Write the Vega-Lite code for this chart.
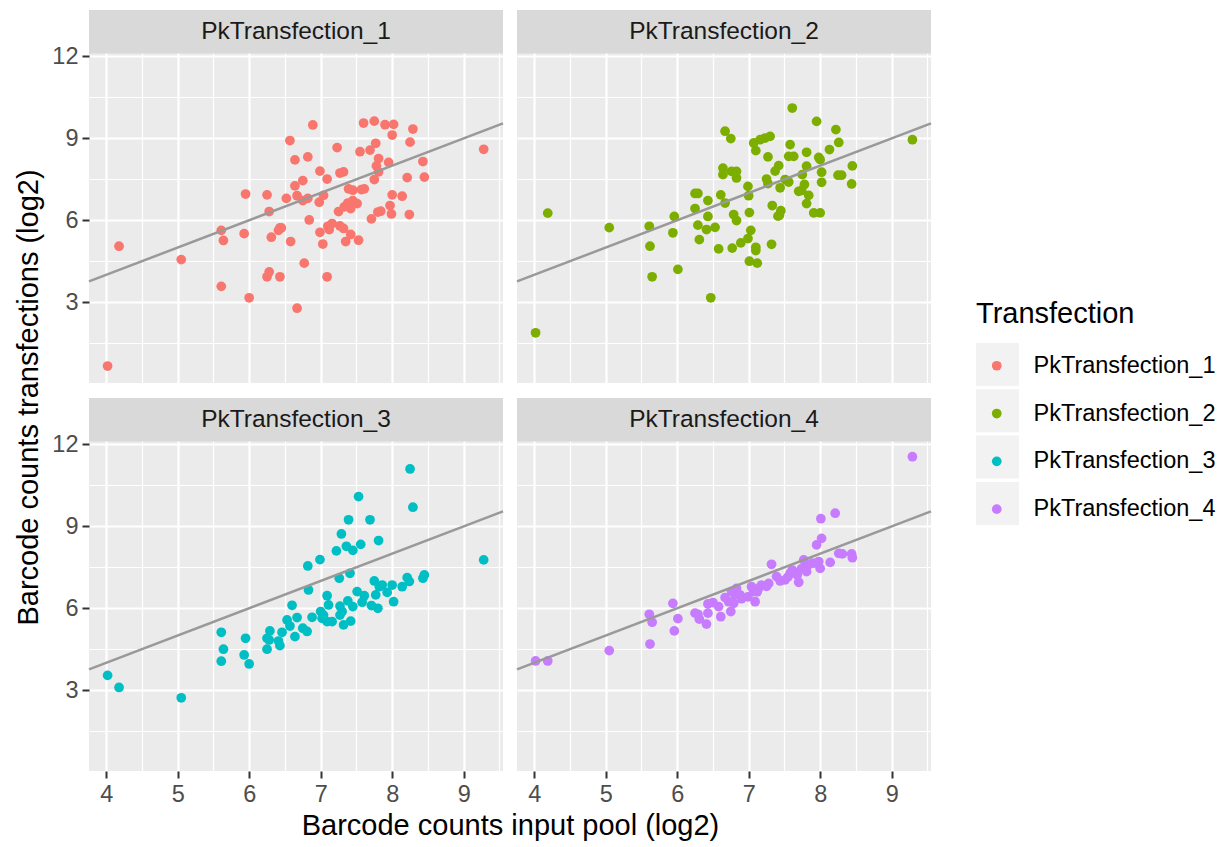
{
  "$schema": "https://vega.github.io/schema/vega-lite/v6.json",
  "background": "white",
  "padding": {"left": 14, "top": 10, "right": 5, "bottom": 5},
  "config": {"font": "Liberation Sans", "view": {"stroke": null}},
  "datasets": {
    "strips": [{"t": "PkTransfection_1"}, {"t": "PkTransfection_2"}, {"t": "PkTransfection_3"}, {"t": "PkTransfection_4"}],
    "pts": [
      {"t":"PkTransfection_1","x":4.02,"y":0.66},{"t":"PkTransfection_1","x":4.18,"y":5.05},{"t":"PkTransfection_1","x":5.05,"y":4.56},{"t":"PkTransfection_1","x":5.61,"y":5.63},{"t":"PkTransfection_1","x":5.64,"y":5.26},{"t":"PkTransfection_1","x":5.61,"y":3.58},{"t":"PkTransfection_1","x":5.93,"y":5.51},{"t":"PkTransfection_1","x":5.95,"y":6.96},{"t":"PkTransfection_1","x":6.0,"y":3.16},{"t":"PkTransfection_1","x":6.25,"y":6.93},{"t":"PkTransfection_1","x":6.28,"y":6.32},{"t":"PkTransfection_1","x":6.31,"y":5.38},{"t":"PkTransfection_1","x":6.25,"y":3.93},{"t":"PkTransfection_1","x":6.28,"y":4.11},{"t":"PkTransfection_1","x":6.43,"y":3.93},{"t":"PkTransfection_1","x":6.43,"y":5.72},{"t":"PkTransfection_1","x":6.45,"y":5.72},{"t":"PkTransfection_1","x":6.41,"y":5.63},{"t":"PkTransfection_1","x":6.52,"y":6.8},{"t":"PkTransfection_1","x":6.57,"y":8.92},{"t":"PkTransfection_1","x":6.64,"y":8.21},{"t":"PkTransfection_1","x":6.64,"y":7.26},{"t":"PkTransfection_1","x":6.67,"y":6.9},{"t":"PkTransfection_1","x":6.58,"y":5.22},{"t":"PkTransfection_1","x":6.67,"y":2.78},
      {"t":"PkTransfection_1","x":6.89,"y":9.49},{"t":"PkTransfection_1","x":6.82,"y":8.32},{"t":"PkTransfection_1","x":6.75,"y":7.45},{"t":"PkTransfection_1","x":6.75,"y":6.72},{"t":"PkTransfection_1","x":6.82,"y":6.8},{"t":"PkTransfection_1","x":6.99,"y":7.8},{"t":"PkTransfection_1","x":7.09,"y":7.51},{"t":"PkTransfection_1","x":7.23,"y":8.66},{"t":"PkTransfection_1","x":7.27,"y":7.73},{"t":"PkTransfection_1","x":7.32,"y":7.77},{"t":"PkTransfection_1","x":6.98,"y":6.66},{"t":"PkTransfection_1","x":7.04,"y":6.91},{"t":"PkTransfection_1","x":6.84,"y":6.01},{"t":"PkTransfection_1","x":6.99,"y":5.56},{"t":"PkTransfection_1","x":7.12,"y":5.66},{"t":"PkTransfection_1","x":7.16,"y":5.88},{"t":"PkTransfection_1","x":7.1,"y":5.78},{"t":"PkTransfection_1","x":7.03,"y":5.13},{"t":"PkTransfection_1","x":6.77,"y":4.43},{"t":"PkTransfection_1","x":7.09,"y":3.93},{"t":"PkTransfection_1","x":7.27,"y":5.79},{"t":"PkTransfection_1","x":7.32,"y":5.7},{"t":"PkTransfection_1","x":7.25,"y":6.32},{"t":"PkTransfection_1","x":7.35,"y":5.22},{"t":"PkTransfection_1","x":7.42,"y":5.48},{"t":"PkTransfection_1","x":7.53,"y":5.27},{"t":"PkTransfection_1","x":7.39,"y":7.15},{"t":"PkTransfection_1","x":7.45,"y":7.1},{"t":"PkTransfection_1","x":7.57,"y":7.12},{"t":"PkTransfection_1","x":7.61,"y":7.15},{"t":"PkTransfection_1","x":7.33,"y":6.49},{"t":"PkTransfection_1","x":7.38,"y":6.63},{"t":"PkTransfection_1","x":7.45,"y":6.72},{"t":"PkTransfection_1","x":7.51,"y":6.61},{"t":"PkTransfection_1","x":7.42,"y":6.43},{"t":"PkTransfection_1","x":7.6,"y":9.56},{"t":"PkTransfection_1","x":7.75,"y":9.63},{"t":"PkTransfection_1","x":7.9,"y":9.5},{"t":"PkTransfection_1","x":8.02,"y":9.51},{"t":"PkTransfection_1","x":8.0,"y":9.12},{"t":"PkTransfection_1","x":7.55,"y":8.51},{"t":"PkTransfection_1","x":7.69,"y":8.57},{"t":"PkTransfection_1","x":7.77,"y":8.82},{"t":"PkTransfection_1","x":7.81,"y":8.26},{"t":"PkTransfection_1","x":7.78,"y":7.99},{"t":"PkTransfection_1","x":7.81,"y":7.77},{"t":"PkTransfection_1","x":7.75,"y":7.49},{"t":"PkTransfection_1","x":7.95,"y":8.12},{"t":"PkTransfection_1","x":7.71,"y":6.05},{"t":"PkTransfection_1","x":7.8,"y":6.3},{"t":"PkTransfection_1","x":7.84,"y":6.33},{"t":"PkTransfection_1","x":7.97,"y":6.54},{"t":"PkTransfection_1","x":7.99,"y":6.23},{"t":"PkTransfection_1","x":8.0,"y":6.93},{"t":"PkTransfection_1","x":8.14,"y":6.88},{"t":"PkTransfection_1","x":8.29,"y":9.34},{"t":"PkTransfection_1","x":8.25,"y":8.86},{"t":"PkTransfection_1","x":8.43,"y":8.15},{"t":"PkTransfection_1","x":8.21,"y":7.56},{"t":"PkTransfection_1","x":8.45,"y":7.58},{"t":"PkTransfection_1","x":8.24,"y":6.21},{"t":"PkTransfection_1","x":9.28,"y":8.6},
      {"t":"PkTransfection_2","x":4.02,"y":1.88},{"t":"PkTransfection_2","x":4.19,"y":6.26},{"t":"PkTransfection_2","x":5.05,"y":5.73},{"t":"PkTransfection_2","x":5.61,"y":5.78},{"t":"PkTransfection_2","x":5.62,"y":5.05},{"t":"PkTransfection_2","x":5.65,"y":3.93},{"t":"PkTransfection_2","x":5.94,"y":5.54},{"t":"PkTransfection_2","x":5.96,"y":6.14},{"t":"PkTransfection_2","x":6.01,"y":4.2},{"t":"PkTransfection_2","x":6.25,"y":6.98},{"t":"PkTransfection_2","x":6.29,"y":6.98},{"t":"PkTransfection_2","x":6.25,"y":6.43},{"t":"PkTransfection_2","x":6.29,"y":5.82},{"t":"PkTransfection_2","x":6.31,"y":5.29},{"t":"PkTransfection_2","x":6.41,"y":5.66},{"t":"PkTransfection_2","x":6.43,"y":6.72},{"t":"PkTransfection_2","x":6.43,"y":6.14},{"t":"PkTransfection_2","x":6.53,"y":5.74},{"t":"PkTransfection_2","x":6.58,"y":4.95},{"t":"PkTransfection_2","x":6.61,"y":6.93},{"t":"PkTransfection_2","x":6.47,"y":3.16},{"t":"PkTransfection_2","x":6.67,"y":6.63},{"t":"PkTransfection_2","x":6.64,"y":7.91},{"t":"PkTransfection_2","x":6.64,"y":7.67},{"t":"PkTransfection_2","x":6.67,"y":9.26},
      {"t":"PkTransfection_2","x":6.75,"y":8.99},{"t":"PkTransfection_2","x":6.76,"y":7.79},{"t":"PkTransfection_2","x":6.83,"y":7.79},{"t":"PkTransfection_2","x":6.83,"y":7.55},{"t":"PkTransfection_2","x":6.79,"y":6.21},{"t":"PkTransfection_2","x":6.83,"y":5.99},{"t":"PkTransfection_2","x":6.77,"y":4.98},{"t":"PkTransfection_2","x":6.89,"y":5.17},{"t":"PkTransfection_2","x":6.99,"y":5.33},{"t":"PkTransfection_2","x":7.03,"y":5.63},{"t":"PkTransfection_2","x":7.1,"y":5.01},{"t":"PkTransfection_2","x":7.1,"y":4.89},{"t":"PkTransfection_2","x":7.01,"y":4.5},{"t":"PkTransfection_2","x":7.12,"y":4.43},{"t":"PkTransfection_2","x":6.99,"y":7.24},{"t":"PkTransfection_2","x":7.0,"y":6.9},{"t":"PkTransfection_2","x":7.01,"y":6.28},{"t":"PkTransfection_2","x":7.07,"y":8.83},{"t":"PkTransfection_2","x":7.1,"y":8.55},{"t":"PkTransfection_2","x":7.16,"y":8.95},{"t":"PkTransfection_2","x":7.23,"y":9.01},{"t":"PkTransfection_2","x":7.3,"y":9.07},{"t":"PkTransfection_2","x":7.27,"y":8.32},{"t":"PkTransfection_2","x":7.25,"y":7.51},{"t":"PkTransfection_2","x":7.27,"y":7.34},{"t":"PkTransfection_2","x":7.33,"y":6.54},{"t":"PkTransfection_2","x":7.32,"y":5.12},{"t":"PkTransfection_2","x":7.37,"y":7.8},{"t":"PkTransfection_2","x":7.42,"y":8.0},{"t":"PkTransfection_2","x":7.44,"y":7.19},{"t":"PkTransfection_2","x":7.51,"y":7.49},{"t":"PkTransfection_2","x":7.56,"y":7.4},{"t":"PkTransfection_2","x":7.41,"y":6.15},{"t":"PkTransfection_2","x":7.45,"y":6.35},{"t":"PkTransfection_2","x":7.43,"y":6.18},{"t":"PkTransfection_2","x":7.61,"y":10.11},{"t":"PkTransfection_2","x":7.58,"y":8.77},{"t":"PkTransfection_2","x":7.56,"y":8.34},{"t":"PkTransfection_2","x":7.63,"y":8.34},{"t":"PkTransfection_2","x":7.81,"y":8.49},{"t":"PkTransfection_2","x":7.81,"y":7.98},{"t":"PkTransfection_2","x":7.75,"y":7.67},{"t":"PkTransfection_2","x":7.78,"y":7.31},{"t":"PkTransfection_2","x":7.7,"y":7.06},{"t":"PkTransfection_2","x":7.74,"y":7.09},{"t":"PkTransfection_2","x":7.84,"y":6.91},{"t":"PkTransfection_2","x":7.81,"y":6.61},{"t":"PkTransfection_2","x":7.91,"y":6.27},{"t":"PkTransfection_2","x":8.0,"y":6.27},{"t":"PkTransfection_2","x":7.95,"y":9.62},{"t":"PkTransfection_2","x":7.98,"y":8.3},{"t":"PkTransfection_2","x":8.0,"y":8.22},{"t":"PkTransfection_2","x":8.02,"y":7.76},{"t":"PkTransfection_2","x":8.02,"y":7.39},{"t":"PkTransfection_2","x":8.13,"y":8.59},{"t":"PkTransfection_2","x":8.22,"y":9.32},{"t":"PkTransfection_2","x":8.26,"y":8.85},{"t":"PkTransfection_2","x":8.25,"y":7.65},{"t":"PkTransfection_2","x":8.3,"y":7.65},{"t":"PkTransfection_2","x":8.45,"y":7.99},{"t":"PkTransfection_2","x":8.44,"y":7.33},{"t":"PkTransfection_2","x":9.29,"y":8.95},
      {"t":"PkTransfection_3","x":4.02,"y":3.54},{"t":"PkTransfection_3","x":4.18,"y":3.1},{"t":"PkTransfection_3","x":5.05,"y":2.72},{"t":"PkTransfection_3","x":5.61,"y":5.12},{"t":"PkTransfection_3","x":5.64,"y":4.5},{"t":"PkTransfection_3","x":5.61,"y":4.06},{"t":"PkTransfection_3","x":5.95,"y":4.9},{"t":"PkTransfection_3","x":5.93,"y":4.29},{"t":"PkTransfection_3","x":6.0,"y":3.96},{"t":"PkTransfection_3","x":6.25,"y":4.9},{"t":"PkTransfection_3","x":6.29,"y":5.17},{"t":"PkTransfection_3","x":6.28,"y":4.84},{"t":"PkTransfection_3","x":6.25,"y":4.5},{"t":"PkTransfection_3","x":6.41,"y":4.8},{"t":"PkTransfection_3","x":6.43,"y":4.63},{"t":"PkTransfection_3","x":6.46,"y":5.12},{"t":"PkTransfection_3","x":6.53,"y":5.57},{"t":"PkTransfection_3","x":6.57,"y":5.35},{"t":"PkTransfection_3","x":6.6,"y":6.11},{"t":"PkTransfection_3","x":6.67,"y":5.66},{"t":"PkTransfection_3","x":6.64,"y":4.96},
      {"t":"PkTransfection_3","x":6.75,"y":5.27},{"t":"PkTransfection_3","x":6.81,"y":5.15},{"t":"PkTransfection_3","x":6.83,"y":6.67},{"t":"PkTransfection_3","x":6.82,"y":7.55},{"t":"PkTransfection_3","x":6.99,"y":7.78},{"t":"PkTransfection_3","x":6.88,"y":5.67},{"t":"PkTransfection_3","x":7.0,"y":5.88},{"t":"PkTransfection_3","x":7.04,"y":5.75},{"t":"PkTransfection_3","x":7.09,"y":5.51},{"t":"PkTransfection_3","x":7.09,"y":6.46},{"t":"PkTransfection_3","x":7.11,"y":6.12},{"t":"PkTransfection_3","x":7.16,"y":5.51},{"t":"PkTransfection_3","x":7.02,"y":5.63},{"t":"PkTransfection_3","x":7.27,"y":6.08},{"t":"PkTransfection_3","x":7.3,"y":5.88},{"t":"PkTransfection_3","x":7.32,"y":5.39},{"t":"PkTransfection_3","x":7.42,"y":5.53},{"t":"PkTransfection_3","x":7.27,"y":5.75},{"t":"PkTransfection_3","x":7.26,"y":7.1},{"t":"PkTransfection_3","x":7.41,"y":7.28},{"t":"PkTransfection_3","x":7.22,"y":8.1},{"t":"PkTransfection_3","x":7.29,"y":8.72},{"t":"PkTransfection_3","x":7.36,"y":8.27},{"t":"PkTransfection_3","x":7.45,"y":8.12},{"t":"PkTransfection_3","x":7.56,"y":8.34},{"t":"PkTransfection_3","x":7.39,"y":9.24},{"t":"PkTransfection_3","x":7.53,"y":10.09},{"t":"PkTransfection_3","x":7.69,"y":9.24},{"t":"PkTransfection_3","x":7.81,"y":8.48},{"t":"PkTransfection_3","x":7.38,"y":6.27},{"t":"PkTransfection_3","x":7.45,"y":6.06},{"t":"PkTransfection_3","x":7.51,"y":6.61},{"t":"PkTransfection_3","x":7.58,"y":6.22},{"t":"PkTransfection_3","x":7.61,"y":6.46},{"t":"PkTransfection_3","x":7.71,"y":6.1},{"t":"PkTransfection_3","x":7.8,"y":6.0},{"t":"PkTransfection_3","x":7.75,"y":7.0},{"t":"PkTransfection_3","x":7.82,"y":6.79},{"t":"PkTransfection_3","x":7.77,"y":6.49},{"t":"PkTransfection_3","x":7.86,"y":6.85},{"t":"PkTransfection_3","x":7.93,"y":6.58},{"t":"PkTransfection_3","x":8.0,"y":6.85},{"t":"PkTransfection_3","x":8.02,"y":6.24},{"t":"PkTransfection_3","x":8.14,"y":6.79},{"t":"PkTransfection_3","x":8.21,"y":7.12},{"t":"PkTransfection_3","x":8.24,"y":6.98},{"t":"PkTransfection_3","x":8.43,"y":7.1},{"t":"PkTransfection_3","x":8.45,"y":7.22},{"t":"PkTransfection_3","x":8.25,"y":11.1},{"t":"PkTransfection_3","x":8.29,"y":9.7},{"t":"PkTransfection_3","x":9.28,"y":7.77},
      {"t":"PkTransfection_4","x":4.02,"y":4.07},{"t":"PkTransfection_4","x":4.19,"y":4.07},{"t":"PkTransfection_4","x":5.05,"y":4.45},{"t":"PkTransfection_4","x":5.61,"y":5.78},{"t":"PkTransfection_4","x":5.65,"y":5.49},{"t":"PkTransfection_4","x":5.62,"y":4.69},{"t":"PkTransfection_4","x":5.94,"y":6.18},{"t":"PkTransfection_4","x":6.01,"y":5.62},{"t":"PkTransfection_4","x":5.96,"y":5.17},{"t":"PkTransfection_4","x":6.25,"y":5.82},{"t":"PkTransfection_4","x":6.29,"y":5.78},{"t":"PkTransfection_4","x":6.31,"y":5.6},{"t":"PkTransfection_4","x":6.43,"y":5.82},{"t":"PkTransfection_4","x":6.41,"y":5.42},{"t":"PkTransfection_4","x":6.43,"y":6.16},{"t":"PkTransfection_4","x":6.5,"y":6.21},{"t":"PkTransfection_4","x":6.61,"y":5.69},{"t":"PkTransfection_4","x":6.58,"y":6.06},{"t":"PkTransfection_4","x":6.67,"y":6.39},
      {"t":"PkTransfection_4","x":6.75,"y":5.88},{"t":"PkTransfection_4","x":6.72,"y":6.24},{"t":"PkTransfection_4","x":6.79,"y":6.18},{"t":"PkTransfection_4","x":6.83,"y":6.73},{"t":"PkTransfection_4","x":6.81,"y":6.49},{"t":"PkTransfection_4","x":6.88,"y":6.49},{"t":"PkTransfection_4","x":6.76,"y":6.61},{"t":"PkTransfection_4","x":6.99,"y":6.42},{"t":"PkTransfection_4","x":7.04,"y":6.79},{"t":"PkTransfection_4","x":7.09,"y":6.24},{"t":"PkTransfection_4","x":7.07,"y":6.61},{"t":"PkTransfection_4","x":7.14,"y":6.73},{"t":"PkTransfection_4","x":7.18,"y":6.85},{"t":"PkTransfection_4","x":7.28,"y":6.91},{"t":"PkTransfection_4","x":7.32,"y":7.61},{"t":"PkTransfection_4","x":7.39,"y":7.16},{"t":"PkTransfection_4","x":7.44,"y":7.0},{"t":"PkTransfection_4","x":7.51,"y":7.04},{"t":"PkTransfection_4","x":7.58,"y":7.28},{"t":"PkTransfection_4","x":7.61,"y":7.4},{"t":"PkTransfection_4","x":7.7,"y":6.95},{"t":"PkTransfection_4","x":7.68,"y":7.22},{"t":"PkTransfection_4","x":7.77,"y":7.77},{"t":"PkTransfection_4","x":7.81,"y":7.34},{"t":"PkTransfection_4","x":7.83,"y":7.58},{"t":"PkTransfection_4","x":7.89,"y":7.65},{"t":"PkTransfection_4","x":7.95,"y":7.65},{"t":"PkTransfection_4","x":8.0,"y":7.46},{"t":"PkTransfection_4","x":7.98,"y":7.71},{"t":"PkTransfection_4","x":7.95,"y":8.32},{"t":"PkTransfection_4","x":8.02,"y":8.56},{"t":"PkTransfection_4","x":8.01,"y":9.28},{"t":"PkTransfection_4","x":8.21,"y":9.48},{"t":"PkTransfection_4","x":8.14,"y":7.68},{"t":"PkTransfection_4","x":8.26,"y":8.01},{"t":"PkTransfection_4","x":8.31,"y":7.99},{"t":"PkTransfection_4","x":8.44,"y":7.99},{"t":"PkTransfection_4","x":8.45,"y":7.85},{"t":"PkTransfection_4","x":9.29,"y":11.55},{"t":"PkTransfection_4","x":6.9,"y":6.35},{"t":"PkTransfection_4","x":7.12,"y":6.6},{"t":"PkTransfection_4","x":7.25,"y":6.8},{"t":"PkTransfection_4","x":7.55,"y":7.15},{"t":"PkTransfection_4","x":7.74,"y":7.45}
    ]
  },
  "concat": [
    {
      "width": 414, "height": 373,
      "view": {"fill": "#EBEBEB", "stroke": null},
      "resolve": {"axis": {"x": "independent", "y": "independent"}},
      "layer": [
        {"data": {"name": "strips"}, "transform": [{"filter": "datum.t === 'PkTransfection_1'"}],
         "mark": {"type": "rect", "fill": "#D9D9D9"},
         "encoding": {
           "x": {"datum": 3.76, "type": "quantitative", "scale": {"domain": [3.76, 9.55], "nice": false, "zero": false}, "axis": {"orient": "bottom", "values": [4.5, 5.5, 6.5, 7.5, 8.5, 9.5], "grid": true, "gridColor": "white", "gridWidth": 1.2, "labels": false, "ticks": false, "domain": false, "title": null}},
           "x2": {"datum": 9.55},
           "y": {"datum": 12.11, "type": "quantitative", "scale": {"domain": [0.04, 13.7], "nice": false, "zero": false}, "axis": {"orient": "left", "values": [1.5, 4.5, 7.5, 10.5], "grid": true, "gridColor": "white", "gridWidth": 1.2, "labels": false, "ticks": false, "domain": false, "title": null}},
           "y2": {"datum": 13.7}
         }},
        {"data": {"name": "strips"}, "transform": [{"filter": "datum.t === 'PkTransfection_1'"}],
         "mark": {"type": "square", "opacity": 0, "size": 10},
         "encoding": {
           "x": {"datum": 6, "type": "quantitative", "axis": null},
           "y": {"datum": 6, "type": "quantitative", "axis": null},
           "fill": {"field": "t", "type": "nominal", "scale": {"domain": ["PkTransfection_4", "PkTransfection_3", "PkTransfection_2", "PkTransfection_1"], "range": ["#F2F2F2", "#F2F2F2", "#F2F2F2", "#F2F2F2"]},
             "legend": {"title": null, "orient": "none", "legendX": 887, "legendY": 333, "zindex": 0, "symbolType": "square", "symbolSize": 1849, "symbolStrokeWidth": 0, "symbolOpacity": 1, "symbolOffset": 0, "labelExpr": "''", "labelFontSize": 1, "rowPadding": 3.3}}
         }},
        {"data": {"name": "pts"}, "transform": [{"filter": "datum.t === 'PkTransfection_1'"}],
         "mark": {"type": "circle", "size": 95, "opacity": 1},
         "encoding": {
           "x": {"field": "x", "type": "quantitative", "axis": {"orient": "bottom", "values": [4, 5, 6, 7, 8, 9], "grid": true, "gridColor": "white", "gridWidth": 2.2, "labels": false, "ticks": false, "domain": false, "title": null}},
           "y": {"field": "y", "type": "quantitative", "axis": {"orient": "left", "values": [3, 6, 9, 12], "grid": true, "gridColor": "white", "gridWidth": 2.2, "domain": false, "ticks": true, "tickSize": 7, "tickWidth": 2, "tickColor": "#333333", "labelFontSize": 23.5, "labelColor": "#4D4D4D", "labelPadding": 4, "title": "Barcode counts transfections (log2)", "titleFontSize": 29, "titleFontWeight": "normal", "titleColor": "#000000", "titlePadding": 8, "titleY": 387}},
           "color": {"field": "t", "type": "nominal", "scale": {"domain": ["PkTransfection_1", "PkTransfection_2", "PkTransfection_3", "PkTransfection_4"], "range": ["#F8766D", "#7CAE00", "#00BFC4", "#C77CFF"]},
             "legend": {"title": "Transfection", "orient": "none", "legendX": 887, "legendY": 290, "zindex": 1, "titleFontSize": 29, "titleFontWeight": "normal", "titleColor": "#000000", "labelFontSize": 23.5, "labelColor": "#000000", "labelLimit": 500, "symbolSize": 95, "symbolType": "circle", "symbolOpacity": 1, "rowPadding": 22.8, "titlePadding": 25, "labelOffset": 25, "symbolOffset": 9}}
         }},
        {"data": {"name": "strips"}, "transform": [{"filter": "datum.t === 'PkTransfection_1'"}],
         "mark": {"type": "rule", "color": "#999999", "strokeWidth": 2.5},
         "encoding": {"x": {"datum": 3.76, "type": "quantitative", "axis": null}, "y": {"datum": 3.76, "type": "quantitative", "axis": null}, "x2": {"datum": 9.55}, "y2": {"datum": 9.55}}},
        {"data": {"name": "strips"}, "transform": [{"filter": "datum.t === 'PkTransfection_1'"}],
         "mark": {"type": "text", "fontSize": 24.5, "color": "#1A1A1A"},
         "encoding": {"x": {"datum": 6.655, "type": "quantitative", "axis": null}, "y": {"datum": 12.905, "type": "quantitative", "axis": null}, "text": {"field": "t"}}}
      ]
    },
    {
      "width": 414, "height": 373,
      "view": {"fill": "#EBEBEB", "stroke": null},
      "resolve": {"axis": {"x": "independent", "y": "independent"}},
      "layer": [
        {"data": {"name": "strips"}, "transform": [{"filter": "datum.t === 'PkTransfection_2'"}],
         "mark": {"type": "rect", "fill": "#D9D9D9"},
         "encoding": {
           "x": {"datum": 3.76, "type": "quantitative", "scale": {"domain": [3.76, 9.55], "nice": false, "zero": false}, "axis": {"orient": "bottom", "values": [4.5, 5.5, 6.5, 7.5, 8.5, 9.5], "grid": true, "gridColor": "white", "gridWidth": 1.2, "labels": false, "ticks": false, "domain": false, "title": null}},
           "x2": {"datum": 9.55},
           "y": {"datum": 12.11, "type": "quantitative", "scale": {"domain": [0.04, 13.7], "nice": false, "zero": false}, "axis": {"orient": "left", "values": [1.5, 4.5, 7.5, 10.5], "grid": true, "gridColor": "white", "gridWidth": 1.2, "labels": false, "ticks": false, "domain": false, "title": null}},
           "y2": {"datum": 13.7}
         }},
        {"data": {"name": "strips"}, "transform": [{"filter": "datum.t === 'PkTransfection_2'"}],
         "mark": {"type": "square", "opacity": 0, "size": 10},
         "encoding": {
           "x": {"datum": 6, "type": "quantitative", "axis": null},
           "y": {"datum": 6, "type": "quantitative", "axis": null},
           "fill": {"field": "t", "type": "nominal", "scale": {"domain": ["PkTransfection_4", "PkTransfection_3", "PkTransfection_2", "PkTransfection_1"], "range": ["#F2F2F2", "#F2F2F2", "#F2F2F2", "#F2F2F2"]},
             "legend": {"title": null, "orient": "none", "legendX": 887, "legendY": 333, "zindex": 0, "symbolType": "square", "symbolSize": 1849, "symbolStrokeWidth": 0, "symbolOpacity": 1, "symbolOffset": 0, "labelExpr": "''", "labelFontSize": 1, "rowPadding": 3.3}}
         }},
        {"data": {"name": "pts"}, "transform": [{"filter": "datum.t === 'PkTransfection_2'"}],
         "mark": {"type": "circle", "size": 95, "opacity": 1},
         "encoding": {
           "x": {"field": "x", "type": "quantitative", "axis": {"orient": "bottom", "values": [4, 5, 6, 7, 8, 9], "grid": true, "gridColor": "white", "gridWidth": 2.2, "labels": false, "ticks": false, "domain": false, "title": null}},
           "y": {"field": "y", "type": "quantitative", "axis": {"orient": "left", "values": [3, 6, 9, 12], "grid": true, "gridColor": "white", "gridWidth": 2.2, "labels": false, "ticks": false, "domain": false, "title": null}},
           "color": {"field": "t", "type": "nominal", "scale": {"domain": ["PkTransfection_1", "PkTransfection_2", "PkTransfection_3", "PkTransfection_4"], "range": ["#F8766D", "#7CAE00", "#00BFC4", "#C77CFF"]},
             "legend": {"title": "Transfection", "orient": "none", "legendX": 887, "legendY": 290, "zindex": 1, "titleFontSize": 29, "titleFontWeight": "normal", "titleColor": "#000000", "labelFontSize": 23.5, "labelColor": "#000000", "labelLimit": 500, "symbolSize": 95, "symbolType": "circle", "symbolOpacity": 1, "rowPadding": 22.8, "titlePadding": 25, "labelOffset": 25, "symbolOffset": 9}}
         }},
        {"data": {"name": "strips"}, "transform": [{"filter": "datum.t === 'PkTransfection_2'"}],
         "mark": {"type": "rule", "color": "#999999", "strokeWidth": 2.5},
         "encoding": {"x": {"datum": 3.76, "type": "quantitative", "axis": null}, "y": {"datum": 3.76, "type": "quantitative", "axis": null}, "x2": {"datum": 9.55}, "y2": {"datum": 9.55}}},
        {"data": {"name": "strips"}, "transform": [{"filter": "datum.t === 'PkTransfection_2'"}],
         "mark": {"type": "text", "fontSize": 24.5, "color": "#1A1A1A"},
         "encoding": {"x": {"datum": 6.655, "type": "quantitative", "axis": null}, "y": {"datum": 12.905, "type": "quantitative", "axis": null}, "text": {"field": "t"}}}
      ]
    },
    {
      "width": 414, "height": 373,
      "view": {"fill": "#EBEBEB", "stroke": null},
      "resolve": {"axis": {"x": "independent", "y": "independent"}},
      "layer": [
        {"data": {"name": "strips"}, "transform": [{"filter": "datum.t === 'PkTransfection_3'"}],
         "mark": {"type": "rect", "fill": "#D9D9D9"},
         "encoding": {
           "x": {"datum": 3.76, "type": "quantitative", "scale": {"domain": [3.76, 9.55], "nice": false, "zero": false}, "axis": {"orient": "bottom", "values": [4.5, 5.5, 6.5, 7.5, 8.5, 9.5], "grid": true, "gridColor": "white", "gridWidth": 1.2, "labels": false, "ticks": false, "domain": false, "title": null}},
           "x2": {"datum": 9.55},
           "y": {"datum": 12.11, "type": "quantitative", "scale": {"domain": [0.04, 13.7], "nice": false, "zero": false}, "axis": {"orient": "left", "values": [1.5, 4.5, 7.5, 10.5], "grid": true, "gridColor": "white", "gridWidth": 1.2, "labels": false, "ticks": false, "domain": false, "title": null}},
           "y2": {"datum": 13.7}
         }},
        {"data": {"name": "strips"}, "transform": [{"filter": "datum.t === 'PkTransfection_3'"}],
         "mark": {"type": "square", "opacity": 0, "size": 10},
         "encoding": {
           "x": {"datum": 6, "type": "quantitative", "axis": null},
           "y": {"datum": 6, "type": "quantitative", "axis": null},
           "fill": {"field": "t", "type": "nominal", "scale": {"domain": ["PkTransfection_4", "PkTransfection_3", "PkTransfection_2", "PkTransfection_1"], "range": ["#F2F2F2", "#F2F2F2", "#F2F2F2", "#F2F2F2"]},
             "legend": {"title": null, "orient": "none", "legendX": 887, "legendY": 333, "zindex": 0, "symbolType": "square", "symbolSize": 1849, "symbolStrokeWidth": 0, "symbolOpacity": 1, "symbolOffset": 0, "labelExpr": "''", "labelFontSize": 1, "rowPadding": 3.3}}
         }},
        {"data": {"name": "pts"}, "transform": [{"filter": "datum.t === 'PkTransfection_3'"}],
         "mark": {"type": "circle", "size": 95, "opacity": 1},
         "encoding": {
           "x": {"field": "x", "type": "quantitative", "axis": {"orient": "bottom", "values": [4, 5, 6, 7, 8, 9], "grid": true, "gridColor": "white", "gridWidth": 2.2, "domain": false, "ticks": true, "tickSize": 7, "tickWidth": 2, "tickColor": "#333333", "labelFontSize": 23.5, "labelColor": "#4D4D4D", "labelPadding": 4, "title": "Barcode counts input pool (log2)", "titleFontSize": 29, "titleFontWeight": "normal", "titleColor": "#000000", "titlePadding": 6, "titleX": 421}},
           "y": {"field": "y", "type": "quantitative", "axis": {"orient": "left", "values": [3, 6, 9, 12], "grid": true, "gridColor": "white", "gridWidth": 2.2, "domain": false, "ticks": true, "tickSize": 7, "tickWidth": 2, "tickColor": "#333333", "labelFontSize": 23.5, "labelColor": "#4D4D4D", "labelPadding": 4, "title": null}},
           "color": {"field": "t", "type": "nominal", "scale": {"domain": ["PkTransfection_1", "PkTransfection_2", "PkTransfection_3", "PkTransfection_4"], "range": ["#F8766D", "#7CAE00", "#00BFC4", "#C77CFF"]},
             "legend": {"title": "Transfection", "orient": "none", "legendX": 887, "legendY": 290, "zindex": 1, "titleFontSize": 29, "titleFontWeight": "normal", "titleColor": "#000000", "labelFontSize": 23.5, "labelColor": "#000000", "labelLimit": 500, "symbolSize": 95, "symbolType": "circle", "symbolOpacity": 1, "rowPadding": 22.8, "titlePadding": 25, "labelOffset": 25, "symbolOffset": 9}}
         }},
        {"data": {"name": "strips"}, "transform": [{"filter": "datum.t === 'PkTransfection_3'"}],
         "mark": {"type": "rule", "color": "#999999", "strokeWidth": 2.5},
         "encoding": {"x": {"datum": 3.76, "type": "quantitative", "axis": null}, "y": {"datum": 3.76, "type": "quantitative", "axis": null}, "x2": {"datum": 9.55}, "y2": {"datum": 9.55}}},
        {"data": {"name": "strips"}, "transform": [{"filter": "datum.t === 'PkTransfection_3'"}],
         "mark": {"type": "text", "fontSize": 24.5, "color": "#1A1A1A"},
         "encoding": {"x": {"datum": 6.655, "type": "quantitative", "axis": null}, "y": {"datum": 12.905, "type": "quantitative", "axis": null}, "text": {"field": "t"}}}
      ]
    },
    {
      "width": 414, "height": 373,
      "view": {"fill": "#EBEBEB", "stroke": null},
      "resolve": {"axis": {"x": "independent", "y": "independent"}},
      "layer": [
        {"data": {"name": "strips"}, "transform": [{"filter": "datum.t === 'PkTransfection_4'"}],
         "mark": {"type": "rect", "fill": "#D9D9D9"},
         "encoding": {
           "x": {"datum": 3.76, "type": "quantitative", "scale": {"domain": [3.76, 9.55], "nice": false, "zero": false}, "axis": {"orient": "bottom", "values": [4.5, 5.5, 6.5, 7.5, 8.5, 9.5], "grid": true, "gridColor": "white", "gridWidth": 1.2, "labels": false, "ticks": false, "domain": false, "title": null}},
           "x2": {"datum": 9.55},
           "y": {"datum": 12.11, "type": "quantitative", "scale": {"domain": [0.04, 13.7], "nice": false, "zero": false}, "axis": {"orient": "left", "values": [1.5, 4.5, 7.5, 10.5], "grid": true, "gridColor": "white", "gridWidth": 1.2, "labels": false, "ticks": false, "domain": false, "title": null}},
           "y2": {"datum": 13.7}
         }},
        {"data": {"name": "strips"}, "transform": [{"filter": "datum.t === 'PkTransfection_4'"}],
         "mark": {"type": "square", "opacity": 0, "size": 10},
         "encoding": {
           "x": {"datum": 6, "type": "quantitative", "axis": null},
           "y": {"datum": 6, "type": "quantitative", "axis": null},
           "fill": {"field": "t", "type": "nominal", "scale": {"domain": ["PkTransfection_4", "PkTransfection_3", "PkTransfection_2", "PkTransfection_1"], "range": ["#F2F2F2", "#F2F2F2", "#F2F2F2", "#F2F2F2"]},
             "legend": {"title": null, "orient": "none", "legendX": 887, "legendY": 333, "zindex": 0, "symbolType": "square", "symbolSize": 1849, "symbolStrokeWidth": 0, "symbolOpacity": 1, "symbolOffset": 0, "labelExpr": "''", "labelFontSize": 1, "rowPadding": 3.3}}
         }},
        {"data": {"name": "pts"}, "transform": [{"filter": "datum.t === 'PkTransfection_4'"}],
         "mark": {"type": "circle", "size": 95, "opacity": 1},
         "encoding": {
           "x": {"field": "x", "type": "quantitative", "axis": {"orient": "bottom", "values": [4, 5, 6, 7, 8, 9], "grid": true, "gridColor": "white", "gridWidth": 2.2, "domain": false, "ticks": true, "tickSize": 7, "tickWidth": 2, "tickColor": "#333333", "labelFontSize": 23.5, "labelColor": "#4D4D4D", "labelPadding": 4, "title": null}},
           "y": {"field": "y", "type": "quantitative", "axis": {"orient": "left", "values": [3, 6, 9, 12], "grid": true, "gridColor": "white", "gridWidth": 2.2, "labels": false, "ticks": false, "domain": false, "title": null}},
           "color": {"field": "t", "type": "nominal", "scale": {"domain": ["PkTransfection_1", "PkTransfection_2", "PkTransfection_3", "PkTransfection_4"], "range": ["#F8766D", "#7CAE00", "#00BFC4", "#C77CFF"]},
             "legend": {"title": "Transfection", "orient": "none", "legendX": 887, "legendY": 290, "zindex": 1, "titleFontSize": 29, "titleFontWeight": "normal", "titleColor": "#000000", "labelFontSize": 23.5, "labelColor": "#000000", "labelLimit": 500, "symbolSize": 95, "symbolType": "circle", "symbolOpacity": 1, "rowPadding": 22.8, "titlePadding": 25, "labelOffset": 25, "symbolOffset": 9}}
         }},
        {"data": {"name": "strips"}, "transform": [{"filter": "datum.t === 'PkTransfection_4'"}],
         "mark": {"type": "rule", "color": "#999999", "strokeWidth": 2.5},
         "encoding": {"x": {"datum": 3.76, "type": "quantitative", "axis": null}, "y": {"datum": 3.76, "type": "quantitative", "axis": null}, "x2": {"datum": 9.55}, "y2": {"datum": 9.55}}},
        {"data": {"name": "strips"}, "transform": [{"filter": "datum.t === 'PkTransfection_4'"}],
         "mark": {"type": "text", "fontSize": 24.5, "color": "#1A1A1A"},
         "encoding": {"x": {"datum": 6.655, "type": "quantitative", "axis": null}, "y": {"datum": 12.905, "type": "quantitative", "axis": null}, "text": {"field": "t"}}}
      ]
    }
  ],
  "columns": 2,
  "spacing": {"row": 15, "column": 14},
  "bounds": "flush"
}
